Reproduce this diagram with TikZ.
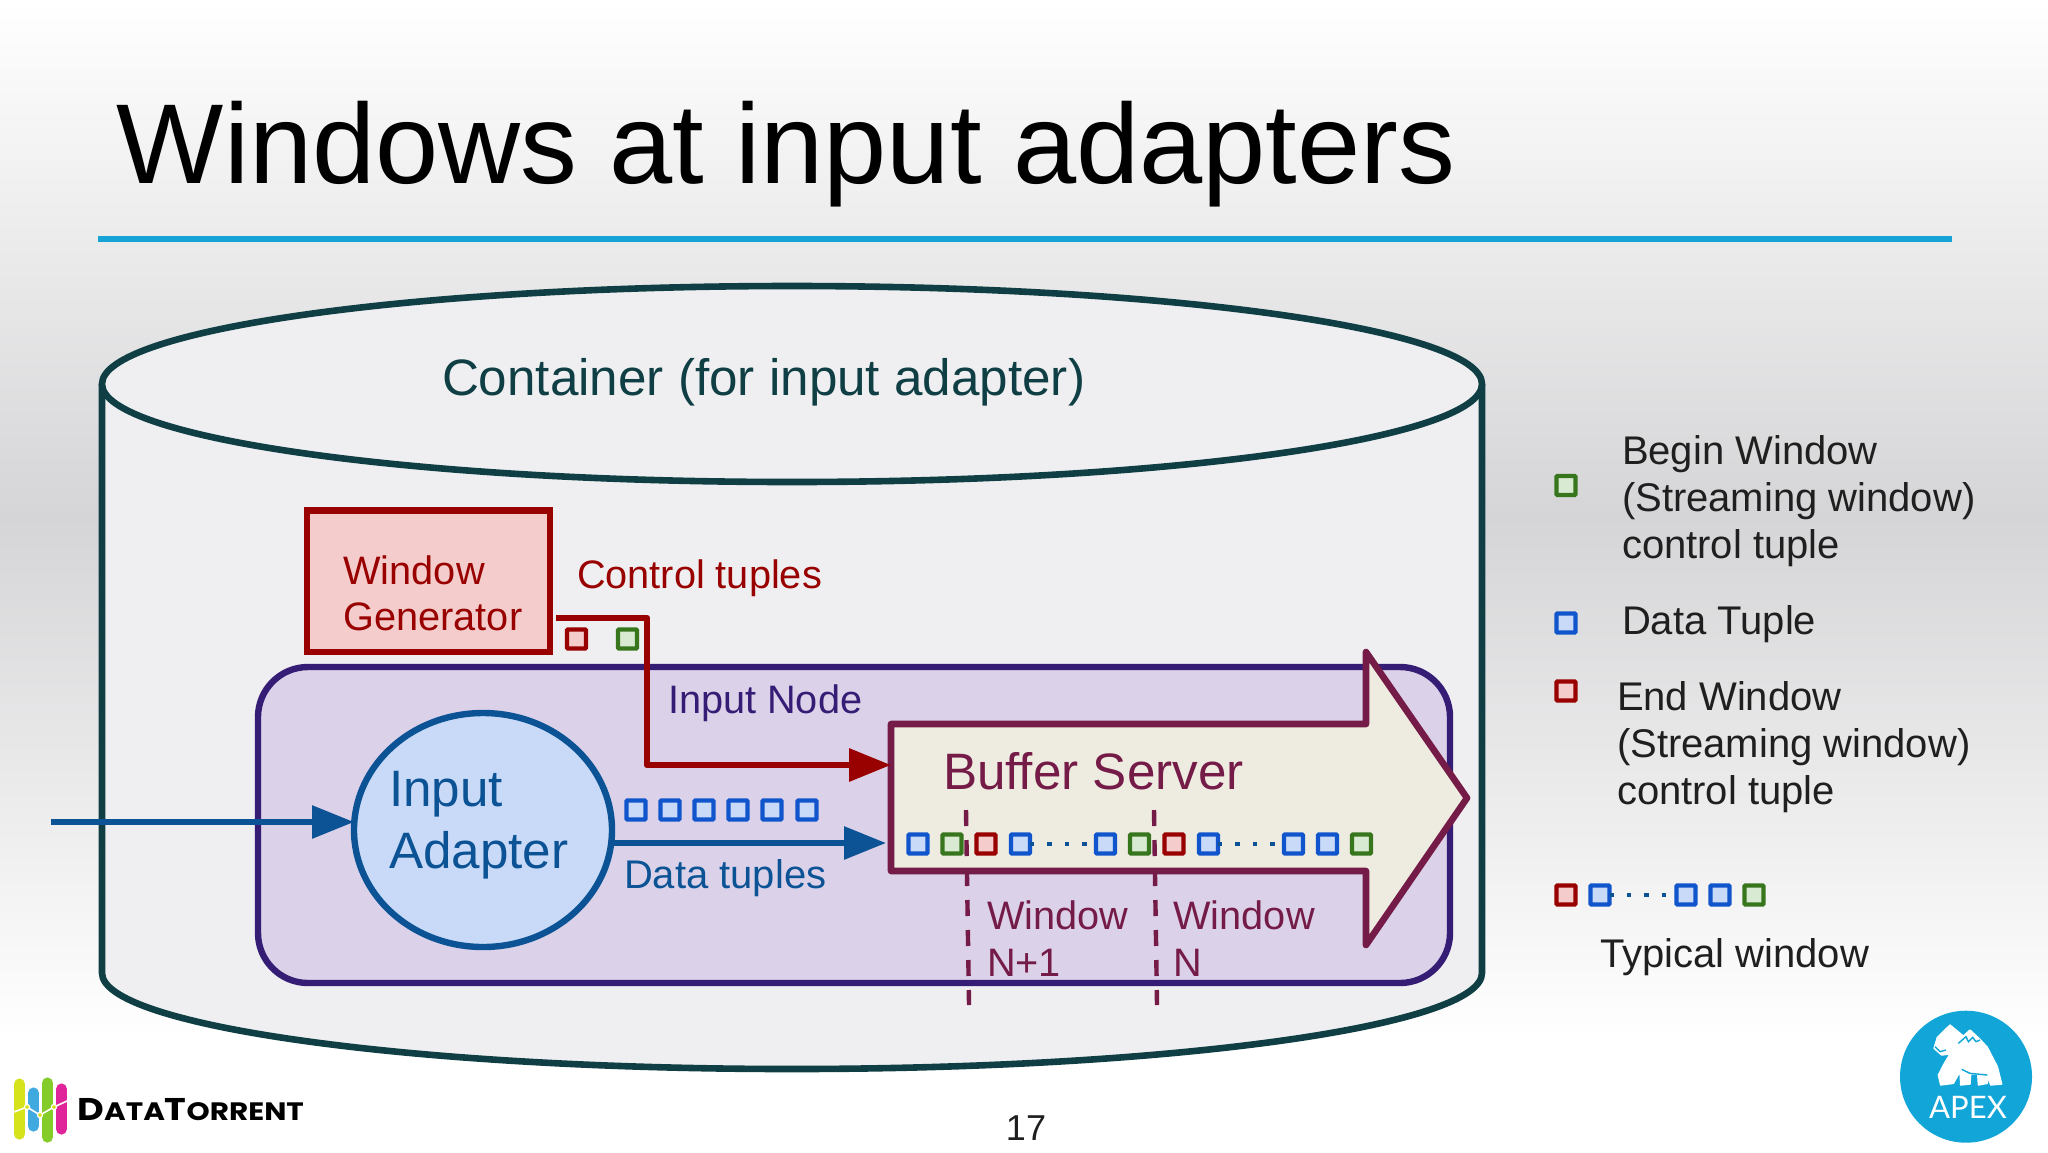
\documentclass[tikz,border=0pt]{standalone}
\usepackage{fontspec}
\setmainfont{Liberation Sans}
\newfontfamily\logofont{Poppins}[FakeStretch=1.17]
\newfontfamily\apexfont{Lato}
\usetikzlibrary{arrows.meta,shapes.geometric,calc}
\definecolor{cTeal}{HTML}{0F3F44}
\definecolor{cCyl}{HTML}{EFEFF1}
\definecolor{cRule}{HTML}{18A3D6}
\definecolor{cGrey}{HTML}{D5D5D7}
\definecolor{cPurple}{HTML}{351C75}
\definecolor{cLilac}{HTML}{DBD1E9}
\definecolor{cRed}{HTML}{990000}
\definecolor{cRedF}{HTML}{F4CCCC}
\definecolor{cBlue}{HTML}{1155CC}
\definecolor{cBlueF}{HTML}{C9DAF8}
\definecolor{cGreen}{HTML}{38761D}
\definecolor{cGreenF}{HTML}{D9EAD3}
\definecolor{cNavy}{HTML}{0B5394}
\definecolor{cMaroon}{HTML}{741B47}
\definecolor{cCream}{HTML}{EEECE1}
\definecolor{cLegend}{HTML}{1F1F1F}
\definecolor{cApex}{HTML}{12A5D8}
\definecolor{cLogoA}{HTML}{D6E21A}
\definecolor{cLogoB}{HTML}{3FA9E0}
\definecolor{cLogoC}{HTML}{84CC2A}
\definecolor{cLogoD}{HTML}{E0259B}
\tikzset{
  txt/.style={anchor=base west,inner sep=0pt,outer sep=0pt,font=\fontsize{19.85}{24}\selectfont},
  leg/.style={anchor=base west,inner sep=0pt,outer sep=0pt,font=\fontsize{20}{24}\selectfont,text=cLegend},
  big/.style={anchor=base west,inner sep=0pt,outer sep=0pt,font=\fontsize{25.6}{30}\selectfont},
  tup/.style={rectangle,minimum size=9.5pt,inner sep=0pt,outer sep=0pt,line width=2.1pt,rounded corners=0.4pt},
  tb/.style={tup,draw=cBlue,fill=cBlueF},
  tg/.style={tup,draw=cGreen,fill=cGreenF},
  tr/.style={tup,draw=cRed,fill=cRedF},
  dots/.style={draw=cNavy,line width=2.2pt,dash pattern=on 2.2pt off 6.5pt},
  wline/.style={draw=cMaroon,line width=2.2pt,dash pattern=on 8pt off 7pt},
  tipF/.style={-{Triangle[length=21pt,width=16pt]}},
  bar/.style={line width=5.6pt,line cap=round},
  logodot/.style={circle,draw=white,fill=cLogoA,line width=0.6pt,minimum size=2.6pt,inner sep=0pt}
}
\begin{document}
\begin{tikzpicture}[x=0.5pt,y=-0.5pt]
\useasboundingbox (0,0) rectangle (2048,1152);
% background
\fill[white] (0,0) rectangle (2048,1152);
\shade[top color=white,bottom color=cGrey] (0,0) rectangle (2048,516);
\shade[top color=cGrey,bottom color=white] (0,516) rectangle (2048,1040);
% title
\node[anchor=base west,inner sep=0pt,font=\fontsize{56.8}{60}\selectfont] (title) at (116.5,183.5) {Windows at input adapters};
\coordinate (ruleL) at (98,239);
\coordinate (ruleR) at (1952,239);
\draw[cRule,line width=3pt] (ruleL) -- (ruleR);
% container
\draw[cTeal,line width=3.3pt,fill=cCyl] (102,384) -- (102,973) arc[start angle=180,end angle=0,x radius=690,y radius=96] -- (1482,384);
\draw[cTeal,line width=3.3pt,fill=cCyl] (792,384) ellipse[x radius=690,y radius=98];
\node[big,text=cTeal] (contLbl) at (442,395) {Container (for input adapter)};
% input node
\node[rectangle,rounded corners=25pt,draw=cPurple,fill=cLilac,line width=3.2pt,minimum width=596pt,minimum height=158pt,inner sep=0pt,outer sep=0pt] (inode) at (854,825) {};
\node[txt,text=cPurple] (inodeLbl) at (668,713) {Input Node};
% window generator
\node[rectangle,draw=cRed,fill=cRedF,line width=3.3pt,minimum width=121.5pt,minimum height=70.8pt,inner sep=0pt,outer sep=0pt] (wg) at (428.5,581) {};
\node[txt,text=cRed] (wgA) at (343.5,584) {Window};
\node[txt,text=cRed] (wgB) at (343.5,630) {Generator};
\node[txt,text=cRed] (ctl) at (577,588) {Control tuples};
\node[tr] (c1) at (576.5,639) {};
\node[tg] (c2) at (627.5,639) {};
% buffer arrow
\draw[cMaroon,line width=3.3pt,fill=cCream,line join=round] (891,724) coordinate (bA) -- (1366,724) -- (1366,652) -- (1467,798) -- (1366,945) -- (1366,871) -- (891,871) -- cycle;
\coordinate (bufIn) at (891,765);
\coordinate (bufData) at (886,843);
\coordinate (ctlStart) at (556,618);
\draw[cRed,line width=3.2pt,line join=round,tipF] (ctlStart) -- (647,618) -- (647,765) -- (bufIn);
\node[big,text=cMaroon] (bufLbl) at (943,789) {Buffer Server};
% input adapter
\node[ellipse,draw=cNavy,fill=cBlueF,line width=3.2pt,minimum width=129pt,minimum height=117pt,inner sep=0pt,outer sep=0pt] (ia) at (483,830) {};
\node[big,text=cNavy] (iaA) at (389,806) {Input};
\node[big,text=cNavy] (iaB) at (389,868) {Adapter};
\coordinate (src) at (51,822);
\draw[cNavy,line width=3pt,tipF] (src) -- (ia.west |- src);
\draw[cNavy,line width=3pt,tipF] (ia.east |- bufData) -- (bufData);
\foreach \n/\x in {a/636,b/670,c/704,d/738,e/772,f/807} \node[tb] (d\n) at (\x,810) {};
\node[leg,text=cNavy] (dataLbl) at (624,888.5) {Data tuples};
% window separators
\coordinate (w1t) at (966,810);
\coordinate (w1b) at (969,1005);
\coordinate (w2t) at (1154,810);
\coordinate (w2b) at (1157,1005);
\draw[wline] (w1t) -- (w1b);
\draw[wline] (w2t) -- (w2b);
% buffered tuples
\node[tb] (s1) at (918,844) {};
\node[tg] (s2) at (952,844) {};
\node[tr] (s3) at (986,844) {};
\node[tb] (s4) at (1020.5,844) {};
\node[tb] (s5) at (1105.5,844) {};
\node[tg] (s6) at (1139.5,844) {};
\node[tr] (s7) at (1174,844) {};
\node[tb] (s8) at (1208.5,844) {};
\node[tb] (s9) at (1293.5,844) {};
\node[tb] (s10) at (1327.5,844) {};
\node[tg] (s11) at (1361.5,844) {};
\draw[dots] (s4.east) -- (s5.west);
\draw[dots] (s8.east) -- (s9.west);
\node[txt,text=cMaroon] (wA1) at (987,929) {Window};
\node[txt,text=cMaroon] (wA2) at (987,976) {N+1};
\node[txt,text=cMaroon] (wB1) at (1173.5,929) {Window};
\node[txt,text=cMaroon] (wB2) at (1173.5,976) {N};
% legend
\node[tg] (lg) at (1566,485.5) {};
\node[tb] (lb) at (1566,623) {};
\node[tr] (lr) at (1566,691) {};
\node[leg] (l1) at (1622,464) {Begin Window};
\node[leg] (l2) at (1622,511) {(Streaming window)};
\node[leg] (l3) at (1622,558) {control tuple};
\node[leg] (l4) at (1622,634) {Data Tuple};
\node[leg] (l5) at (1617,710) {End Window};
\node[leg] (l6) at (1617,757) {(Streaming window)};
\node[leg] (l7) at (1617,804) {control tuple};
\node[tr] (t1) at (1566,895) {};
\node[tb] (t2) at (1600,895) {};
\node[tb] (t3) at (1686,895) {};
\node[tb] (t4) at (1720,895) {};
\node[tg] (t5) at (1754,895) {};
\draw[dots] (t2.east) -- (t3.west);
\node[leg] (l8) at (1600,967) {Typical window};
% page number
\node[anchor=base,inner sep=0pt,font=\fontsize{18}{20}\selectfont,text=cLegend] (pg) at (1026,1140) {17};
% DataTorrent logo
\draw[bar,cLogoA] (19.5,1084) -- (19.5,1134);
\draw[bar,cLogoB] (33.5,1093) -- (33.5,1126);
\draw[bar,cLogoC] (47.5,1083) -- (47.5,1137);
\draw[bar,cLogoD] (61.5,1089) -- (61.5,1129);
\draw[white,line width=0.8pt] (14,1112) -- (27,1107) -- (40,1115) -- (54,1107) -- (67,1101);
\node[logodot] (ld1) at (27,1107) {};
\node[logodot] (ld2) at (40,1115) {};
\node[logodot] (ld3) at (54,1107) {};
\node[anchor=base west,inner sep=0pt,text=black] (dtLbl) at (77,1120) {\logofont\fontsize{15.7}{18}\selectfont\bfseries D\fontsize{12.6}{18}\selectfont ATA\fontsize{15.7}{18}\selectfont T\fontsize{12.6}{18}\selectfont ORRENT};
% Apex logo
\fill[cApex] (1966,1076.7) circle[radius=66];
\begin{scope}[shift={(1900,1000)},x=0.16667pt,y=-0.16667pt]
\filldraw[white,line width=0.7pt,line join=round] (150,75) -- (190,108) -- (210,90) -- (240,118) -- (262,142) -- (292,200) -- (305,252) -- (272,255) -- (262,225) -- (262,250) -- (235,255) -- (233,222) -- (212,222) -- (210,252) -- (182,255) -- (180,215) -- (160,250) -- (122,255) -- (115,225) -- (133,190) -- (150,162) -- (125,165) -- (102,145) -- (112,112) -- cycle;
\draw[cApex,line width=0.7pt] (175,130) -- (198,110) -- (205,125) -- (218,112) -- (228,125) -- (240,120);
\draw[cApex,line width=0.7pt] (185,208) -- (210,220) -- (262,225);
\draw[cApex,line width=0.7pt] (105,140) -- (120,155) -- (138,150);
\end{scope}
\node[anchor=base,inner sep=0pt,text=white,font=\apexfont\fontsize{15.5}{18}\selectfont] (apexLbl) at (1968,1118) {APEX};
\end{tikzpicture}
\end{document}
